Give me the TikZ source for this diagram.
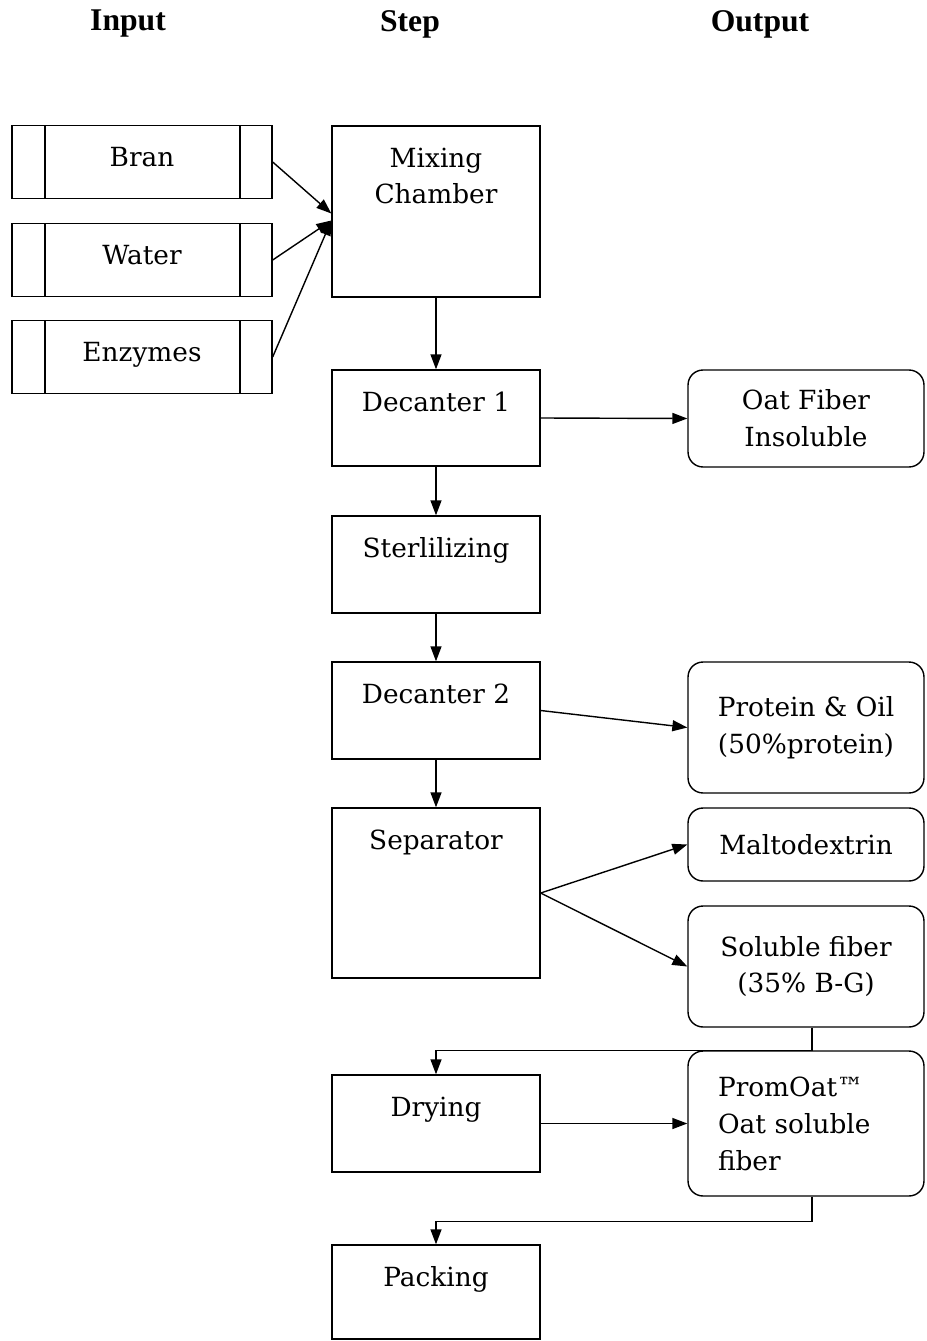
\documentclass[tikz,border=0pt]{standalone}
\usepackage{fontspec}
\setmainfont{DejaVu Serif}
\newfontfamily\headfont{Liberation Serif}
\usetikzlibrary{arrows.meta,positioning}

\tikzset{
	boxfont/.style={font=\fontsize{15}{21}\selectfont},
	stepbox/.style={draw, line width=0.8pt, minimum width=4.16cm, inner sep=0pt},
	steptext/.style={boxfont, align=center, anchor=north, inner sep=0pt, yshift=-0.44cm},
	inbox/.style={draw, line width=0.8pt, boxfont, minimum width=5.2cm, minimum height=1.46cm, text depth=0.2cm,
		path picture={
			\draw [line width=0.8pt] ([xshift=0.66cm]path picture bounding box.north west) -- ([xshift=0.66cm]path picture bounding box.south west);
			\draw [line width=0.8pt] ([xshift=-0.64cm]path picture bounding box.north east) -- ([xshift=-0.64cm]path picture bounding box.south east);
		}},
	outbox/.style={draw, line width=0.8pt, rounded corners=0.3cm, boxfont, align=center, minimum width=4.72cm},
	flow/.style={line width=0.8pt, -{Triangle[length=0.3cm, width=0.22cm]}},
	head/.style={font=\headfont\bfseries\fontsize{18}{20}\selectfont}
}

\begin{document}
\begin{tikzpicture}[x=0.02cm, y=-0.02cm]
		\useasboundingbox (0, 0) rectangle (926, 1341);
		% column headings
		\node [head] (hin) at (128, 24) {Input};
		\node [head] (hstep) at (410, 24) {Step};
		\node [head] (hout) at (760, 24) {Output};
		% inputs
		\node [inbox] (bran) at (142, 162) {Bran};
		\node [inbox] (water) at (142, 260) {Water};
		\node [inbox] (enzymes) at (142, 357) {Enzymes};
		% process steps, text at the top of each box
		\node [stepbox, minimum height=3.42cm, label={[steptext]north:Mixing\\Chamber}] (mix) at (436, 211.5) {};
		\node [stepbox, minimum height=1.92cm, label={[steptext]north:Decanter 1}] (dec1) at (436, 418) {};
		\node [stepbox, minimum height=1.94cm, label={[steptext]north:Sterlilizing}] (ster) at (436, 564.5) {};
		\node [stepbox, minimum height=1.94cm, label={[steptext]north:Decanter 2}] (dec2) at (436, 710.5) {};
		\node [stepbox, minimum height=3.4cm, label={[steptext]north:Separator}] (sep) at (436, 893) {};
		\node [stepbox, minimum height=1.94cm, label={[steptext]north:Drying}] (dry) at (436, 1123.5) {};
		\node [stepbox, minimum height=1.88cm, label={[steptext]north:Packing}] (pack) at (436, 1292) {};
		% outputs
		\node [outbox, minimum height=1.94cm] (oat) at (806, 418.5) {Oat Fiber\\Insoluble};
		\node [outbox, minimum height=2.62cm] (prot) at (806, 727.5) {Protein \& Oil\\(50\%protein)};
		\node [outbox, minimum height=1.46cm] (malto) at (806, 844.5) {Maltodextrin};
		\node [outbox, minimum height=2.42cm] (solub) at (806, 966.5) {Soluble fiber\\(35\% B-G)};
		\node [outbox, minimum height=2.9cm, align=left, text width=3.52cm] (promoat) at (806, 1123.5) {PromOat™\\Oat soluble\\fiber};
		% inputs into the mixing chamber
		\draw [flow] (bran.east) -- ([yshift=-0.04cm]mix.west);
		\draw [flow] (water.east) -- ([yshift=-0.18cm]mix.west);
		\draw [flow] (enzymes.east) -- ([yshift=-0.18cm]mix.west);
		% main line
		\draw [flow] (mix.south) -- (dec1.north);
		\draw [flow] (dec1.south) -- (ster.north);
		\draw [flow] (ster.south) -- (dec2.north);
		\draw [flow] (dec2.south) -- (sep.north);
		% side outputs
		\draw [flow] (dec1.east) -- (oat.west);
		\draw [flow] (dec2.east) -- (prot.west);
		\draw [flow] (sep.east) -- (malto.west);
		\draw [flow] (sep.east) -- (solub.west);
		\draw [flow] (dry.east) -- (promoat.west);
		% soluble fiber back to drying, product to packing
		\draw [flow] ([xshift=0.12cm]solub.south) -- ([xshift=0.12cm]solub.south |- promoat.north) -| (dry.north);
		\draw [flow] ([xshift=0.12cm]promoat.south) -- ++(0, 25) -| (pack.north);
	\end{tikzpicture}
\end{document}
